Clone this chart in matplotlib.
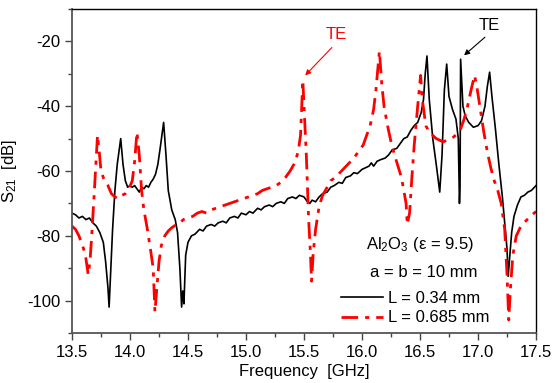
import numpy as np
import matplotlib
matplotlib.use('Agg')
import matplotlib.pyplot as plt
from matplotlib.ticker import MultipleLocator

plt.rcParams['font.family'] = ['Liberation Sans', 'DejaVu Sans']
plt.rcParams['mathtext.fontset'] = 'custom'
plt.rcParams['mathtext.rm'] = 'Liberation Sans'
plt.rcParams['mathtext.it'] = 'Liberation Sans:italic'
plt.rcParams['axes.unicode_minus'] = False

# L = 0.34 mm (black solid)
f_black = [13.50, 13.53, 13.56, 13.59, 13.62, 13.65, 13.68, 13.71, 13.74, 13.77,
           13.79, 13.81, 13.82, 13.835, 13.85, 13.87, 13.89, 13.92, 13.94, 13.96,
           13.98, 14.00, 14.02, 14.04, 14.06, 14.08, 14.10, 14.12, 14.14, 14.16,
           14.18, 14.20, 14.22, 14.24, 14.26, 14.29, 14.31, 14.33, 14.36, 14.39,
           14.41, 14.43, 14.445, 14.455, 14.465, 14.48, 14.50, 14.53, 14.56, 14.60,
           14.63, 14.66, 14.70, 14.73, 14.76, 14.80, 14.83, 14.86, 14.90, 14.93,
           14.96, 15.00, 15.03, 15.06, 15.10, 15.13, 15.16, 15.20, 15.23, 15.26,
           15.30, 15.33, 15.36, 15.40, 15.43, 15.46, 15.50, 15.53, 15.55, 15.57,
           15.60, 15.63, 15.66, 15.70, 15.73, 15.76, 15.80, 15.83, 15.86, 15.90,
           15.93, 15.96, 16.00, 16.03, 16.06, 16.08, 16.10, 16.13, 16.16, 16.20,
           16.23, 16.26, 16.30, 16.33, 16.36, 16.39, 16.42, 16.45, 16.48, 16.51,
           16.53, 16.545, 16.56, 16.58, 16.61, 16.64, 16.67, 16.69, 16.71, 16.73,
           16.75, 16.78, 16.81, 16.83, 16.84, 16.845, 16.85, 16.86, 16.87, 16.89,
           16.92, 16.96, 17.00, 17.03, 17.06, 17.08, 17.10, 17.12, 17.15, 17.18,
           17.21, 17.23, 17.25, 17.26, 17.27, 17.29, 17.31, 17.34, 17.37, 17.40,
           17.43, 17.46, 17.50]
s_black = [-73, -73.5, -74.5, -74, -75, -74.5, -76, -77, -79, -82,
           -88, -96, -102, -90, -78, -66, -58, -50, -58, -63,
           -65, -64.5, -65, -64.5, -65.5, -66.5, -65, -65.5, -64.5, -65,
           -63.5, -62.5, -61, -58, -53, -45, -55, -66, -72, -75,
           -79, -90, -102, -97, -101, -86, -82, -80, -79.5, -78,
           -78.5, -77, -76.5, -77, -76, -75.5, -76, -74.5, -74, -74.5,
           -73, -73.5, -72.5, -73, -71.5, -72, -71, -70.5, -71, -70,
           -69.5, -70, -68.5, -68, -68.5, -67.5, -68, -69.5, -70, -69,
           -69.5, -68, -67, -66.5, -65, -64.5, -63.5, -63.8, -62, -61.5,
           -60.5, -60.8, -59.5, -59, -58.5, -57.5, -58.5, -57, -56.5, -56,
           -55, -53.5, -53, -51.5, -50, -49.5, -47.5, -46, -45, -42,
           -38, -30, -24.5, -38, -50, -58, -66.5, -55, -35, -27,
           -37, -41, -44, -50, -70, -65, -25.5, -33, -40, -43,
           -45, -46.5, -46, -44.5, -40, -34, -29.5, -37, -47, -58,
           -68, -76, -84, -92.5, -88, -79, -74, -70.5, -68, -67.5,
           -66.5, -66, -64.5]

# L = 0.685 mm (red dash-dot)
f_red = [13.50, 13.53, 13.56, 13.58, 13.60, 13.62, 13.64, 13.655, 13.67, 13.69,
         13.71, 13.72, 13.735, 13.75, 13.78, 13.81, 13.84, 13.87, 13.90, 13.93,
         13.96, 13.99, 14.02, 14.04, 14.06, 14.08, 14.10, 14.12, 14.15, 14.18,
         14.20, 14.215, 14.23, 14.25, 14.27, 14.30, 14.33, 14.36, 14.40, 14.43,
         14.46, 14.50, 14.54, 14.58, 14.62, 14.66, 14.70, 14.74, 14.78, 14.82,
         14.86, 14.90, 14.94, 14.98, 15.02, 15.06, 15.10, 15.14, 15.18, 15.22,
         15.26, 15.30, 15.34, 15.38, 15.42, 15.45, 15.47, 15.49, 15.50, 15.52,
         15.54, 15.555, 15.565, 15.58, 15.60, 15.63, 15.66, 15.70, 15.73, 15.77,
         15.81, 15.85, 15.89, 15.93, 15.97, 16.01, 16.04, 16.07, 16.10, 16.12,
         16.15, 16.17, 16.19, 16.22, 16.25, 16.28, 16.31, 16.34, 16.36, 16.38,
         16.39, 16.41, 16.43, 16.45, 16.48, 16.505, 16.52, 16.55, 16.58, 16.61,
         16.64, 16.67, 16.70, 16.73, 16.76, 16.79, 16.82, 16.85, 16.88, 16.91,
         16.94, 16.97, 16.99, 17.02, 17.05, 17.08, 17.11, 17.14, 17.17, 17.20,
         17.23, 17.25, 17.265, 17.28, 17.30, 17.33, 17.37, 17.41, 17.45, 17.50]
s_red = [-77, -78, -80, -82, -84, -87, -92, -88, -80, -68,
         -55, -49, -54, -60, -63, -64.5, -67, -68, -68.5, -67.5,
         -67, -65.5, -63, -57, -48, -55, -66, -72, -78, -85,
         -90, -103.5, -97, -88, -83, -80, -78.5, -77.5, -76.5, -76,
         -75, -74.5, -74, -73, -72.5, -73, -72, -71.5, -71, -70.5,
         -70, -69.5, -69, -68.5, -68, -67.5, -67, -66, -65.5, -65,
         -64.5, -63.5, -62, -60, -57.5, -54, -49, -32, -40, -55,
         -75, -85, -94, -85, -78, -71, -67.5, -65, -63, -62,
         -60.5, -59, -57.5, -56, -54, -52, -49, -46, -41, -35,
         -23, -33, -40, -46, -51, -55, -58.5, -62, -66, -70,
         -76.5, -73, -62, -52, -40, -30.5, -38, -46, -48, -49,
         -50, -50.5, -51, -50.5, -50, -49.5, -48.5, -47, -44, -40,
         -35, -30.5, -34, -41, -48, -54, -59, -63, -66, -70,
         -78, -92, -106, -96, -86, -80, -77, -75.5, -74, -72.5]

fig = plt.figure(figsize=(5.55, 3.83), dpi=100)
ax = fig.add_axes([0.1297, 0.1305, 0.8361, 0.846])

l1, = ax.plot(f_black, s_black, color='black', lw=1.2, label='L = 0.34 mm')
l2, = ax.plot(f_red, s_red, color='red', lw=2.0, linestyle=(0, (6, 2.5, 1.5, 2.5)),
              label='L = 0.685 mm')

ax.set_xlim(13.5, 17.5)
ax.set_ylim(-110, -10)
ax.xaxis.set_major_locator(MultipleLocator(0.5))
ax.xaxis.set_minor_locator(MultipleLocator(0.25))
ax.yaxis.set_major_locator(MultipleLocator(20))
ax.yaxis.set_minor_locator(MultipleLocator(10))
ax.xaxis.set_major_formatter(plt.FormatStrFormatter('%.1f'))
ax.tick_params(which='major', direction='out', length=5, width=1, labelsize=12, colors='#444444', labelcolor='black')
ax.tick_params(which='minor', direction='out', length=3, width=1, colors='#444444')
for sp in ['left', 'bottom']:
    ax.spines[sp].set_color('#555555')
    ax.spines[sp].set_linewidth(1.3)
for sp in ['top', 'right']:
    ax.spines[sp].set_color('black')
    ax.spines[sp].set_linewidth(1.0)

ax.set_xlabel('Frequency  [GHz]', fontsize=12, labelpad=3)
ax.set_ylabel('S$_{21}$  [dB]', fontsize=12, labelpad=6)

# TE annotations
ax.text(15.78, -18, 'TE', color='red', fontsize=12, ha='center', va='center')
ax.annotate('', xy=(15.51, -30.5), xytext=(15.74, -21.9),
            arrowprops=dict(arrowstyle='-|>', color='red', lw=0.8, mutation_scale=8,
                            shrinkA=0, shrinkB=0))
ax.text(17.10, -15.2, 'TE', color='black', fontsize=12, ha='center', va='center')
ax.annotate('', xy=(16.88, -24.3), xytext=(17.06, -18.7),
            arrowprops=dict(arrowstyle='-|>', color='black', lw=0.8, mutation_scale=8,
                            shrinkA=0, shrinkB=0))

ax.text(0.75, 0.272, 'Al$_2$O$_3$ (\u03b5 = 9.5)', transform=ax.transAxes,
        fontsize=12, ha='center', va='center')
ax.text(0.757, 0.188, 'a = b = 10 mm', transform=ax.transAxes,
        fontsize=12, ha='center', va='center')
ax.legend(handles=[l1, l2], loc='upper left', bbox_to_anchor=(0.58, 0.13),
          frameon=False, fontsize=12, handlelength=2.5, handletextpad=0.3,
          labelspacing=0.27, borderpad=0, borderaxespad=0)

fig.savefig('out.png', dpi=100)
